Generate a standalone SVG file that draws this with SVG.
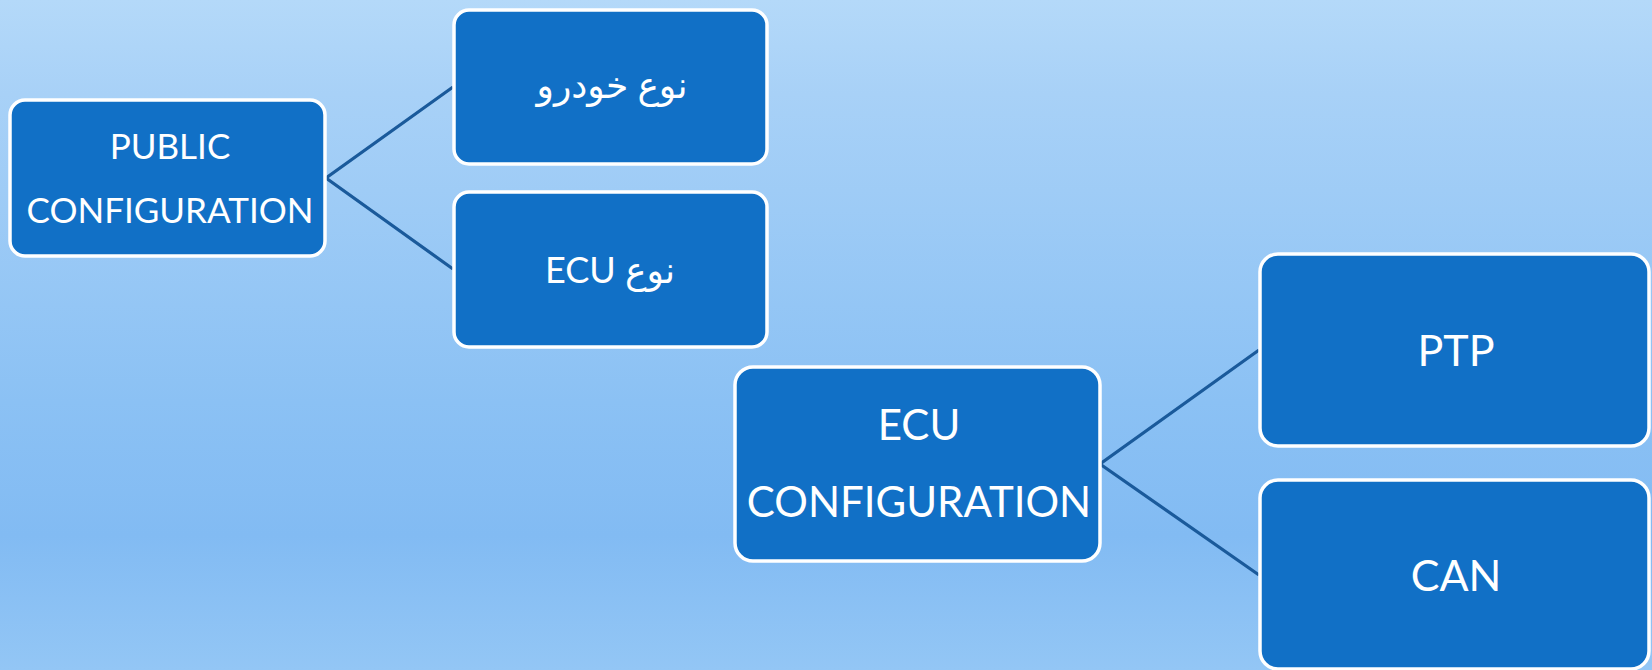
<svg xmlns="http://www.w3.org/2000/svg" width="1652" height="670" viewBox="0 0 1652 670">
  <defs>
    <linearGradient id="bg" x1="0" y1="0" x2="0" y2="1">
      <stop offset="0" stop-color="#b4d9f9"/>
      <stop offset="0.14" stop-color="#a8d1f7"/>
      <stop offset="0.6" stop-color="#8bc1f4"/>
      <stop offset="0.8" stop-color="#82bbf3"/>
      <stop offset="1" stop-color="#93c6f5"/>
    </linearGradient>
    <style>
      .box { fill: #1170c6; stroke: #ffffff; stroke-width: 3.5; }
      .lbl { fill: #ffffff; font-family: "Lato", "DejaVu Sans", sans-serif; text-anchor: middle; }
      .link { stroke: #1a5a9b; stroke-width: 3.2; fill: none; }
    </style>
  </defs>

  <rect x="0" y="0" width="1652" height="670" fill="url(#bg)"/>

  <g id="connectors">
    <polyline class="link" points="453,87 326,178 453,269"/>
    <polyline class="link" points="1259,350 1100,464 1259,575"/>
  </g>

  <g id="public-configuration">
    <rect class="box" x="10" y="100" width="315" height="156" rx="15"/>
    <text class="lbl" x="170" y="159" font-size="35">PUBLIC</text>
    <text class="lbl" x="170" y="223" font-size="35">CONFIGURATION</text>
  </g>

  <g id="vehicle-type">
    <rect class="box" x="454" y="10" width="313" height="154" rx="15"/>
    <text class="lbl" x="612" y="98" font-size="36" direction="rtl">نوع خودرو</text>
  </g>

  <g id="ecu-type">
    <rect class="box" x="454" y="192" width="313" height="155" rx="15"/>
    <text class="lbl" x="610" y="283" font-size="36" direction="rtl">نوع ECU</text>
  </g>

  <g id="ecu-configuration">
    <rect class="box" x="735" y="367" width="365" height="194" rx="18"/>
    <text class="lbl" x="919" y="440" font-size="42">ECU</text>
    <text class="lbl" x="919" y="517" font-size="42">CONFIGURATION</text>
  </g>

  <g id="ptp">
    <rect class="box" x="1260" y="254" width="389" height="192" rx="18"/>
    <text class="lbl" x="1456" y="366" font-size="43">PTP</text>
  </g>

  <g id="can">
    <rect class="box" x="1260" y="480" width="389" height="189" rx="18"/>
    <text class="lbl" x="1456" y="591" font-size="43">CAN</text>
  </g>
</svg>
